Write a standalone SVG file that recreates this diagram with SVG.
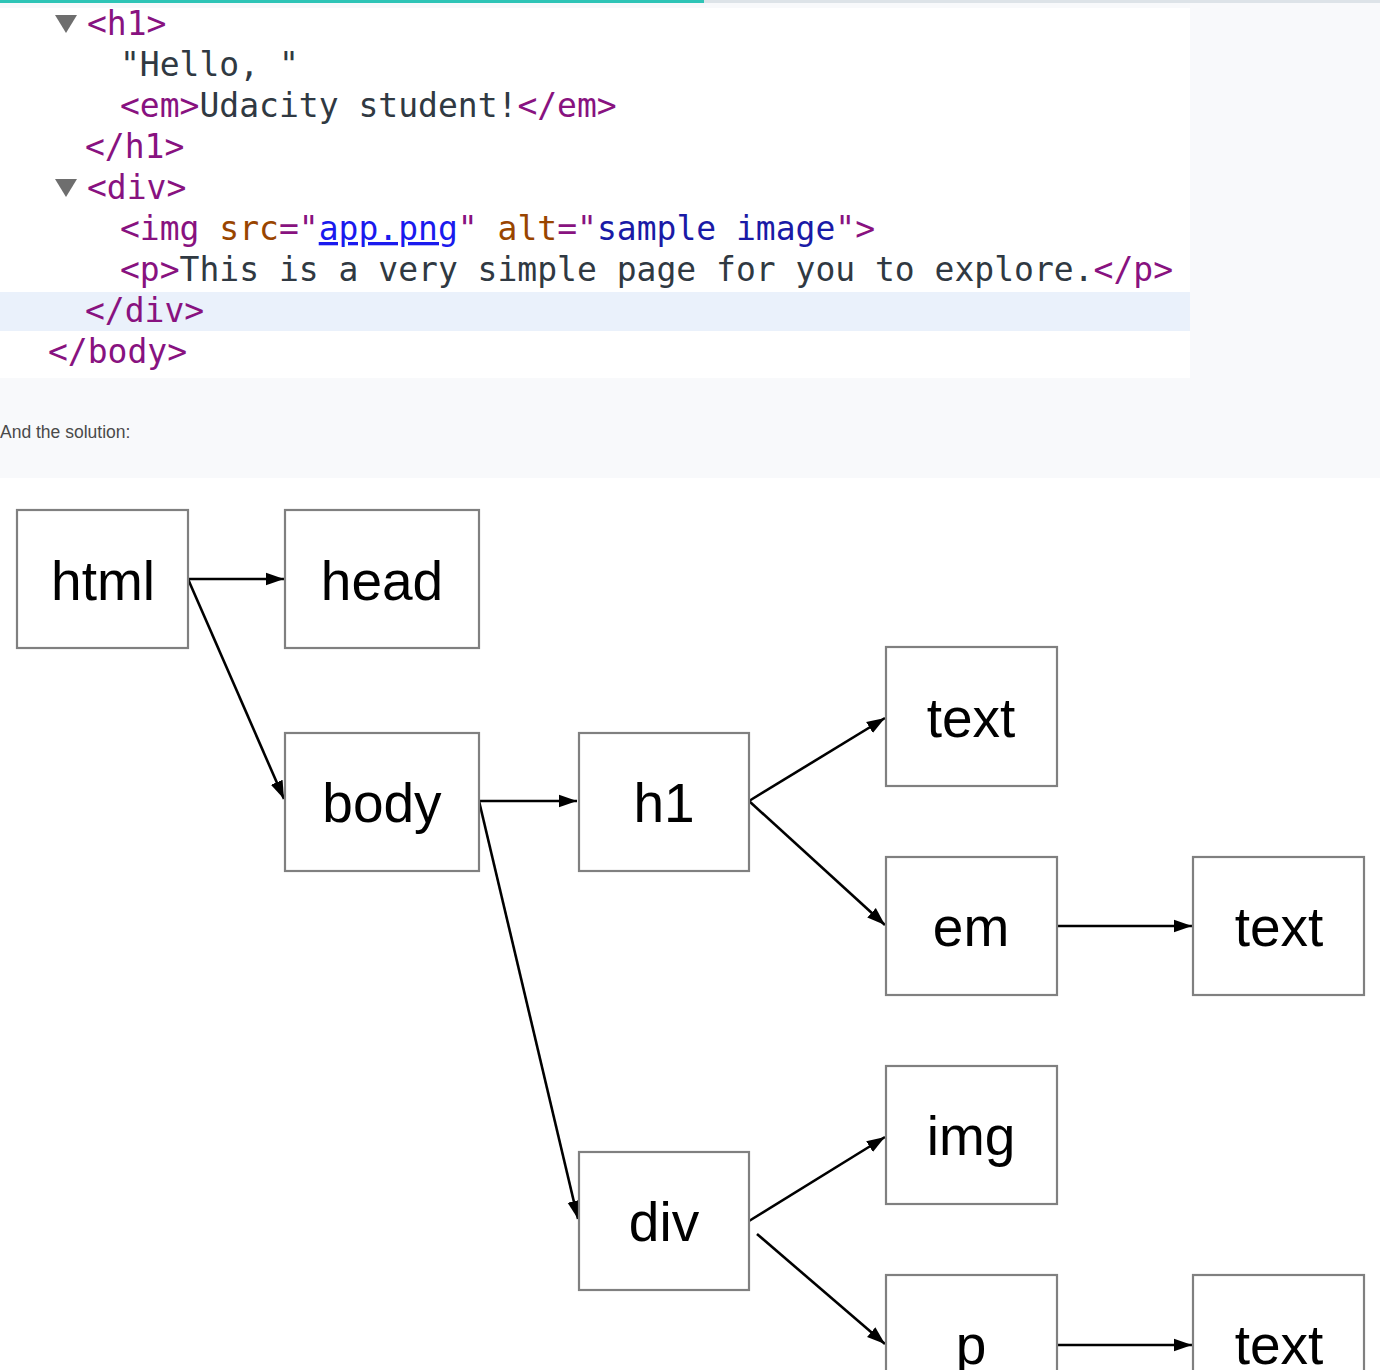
<svg xmlns="http://www.w3.org/2000/svg" width="1380" height="1370" viewBox="0 0 1380 1370">
<defs>
<marker id="ah" viewBox="0 0 10 10" refX="10" refY="5" markerWidth="7" markerHeight="7" markerUnits="strokeWidth" orient="auto">
<path d="M0,1.5 L10,5 L0,8.5 z" fill="#000"/>
</marker>
<style>
.code{font-family:"DejaVu Sans Mono",monospace;font-size:33px;fill:#303942}
.tag{fill:#881280}
.an{fill:#994500}
.av{fill:#1a1aa6}
.lk{fill:#1a1aee;text-decoration:underline}
.box{fill:#fff;stroke:#808080;stroke-width:2.2}
.lbl{font-family:"Liberation Sans",Arial,sans-serif;font-size:55px;fill:#000;text-anchor:middle}
.edge{stroke:#000;stroke-width:2.6;fill:none;marker-end:url(#ah)}
</style>
</defs>
<rect x="0" y="0" width="1380" height="1370" fill="#f8f9fb"/>
<rect x="0" y="0" width="1380" height="3" fill="#dde3e8"/>
<rect x="0" y="0" width="704" height="3" fill="#2ec4b6"/>
<rect x="0" y="8" width="1190" height="370" fill="#ffffff"/>
<rect x="0" y="292" width="1190" height="39" fill="#eaf1fb"/>
<g id="code">
<path d="M55,15 L77,15 L66,33 z" fill="#6e6e6e"/>
<text class="code" x="87" y="35"><tspan class="tag">&lt;h1&gt;</tspan></text>
<text class="code" x="120" y="76">"Hello, "</text>
<text class="code" x="120" y="117"><tspan class="tag">&lt;em&gt;</tspan>Udacity student!<tspan class="tag">&lt;/em&gt;</tspan></text>
<text class="code" x="85" y="158"><tspan class="tag">&lt;/h1&gt;</tspan></text>
<path d="M55,179 L77,179 L66,197 z" fill="#6e6e6e"/>
<text class="code" x="87" y="199"><tspan class="tag">&lt;div&gt;</tspan></text>
<text class="code" x="120" y="240"><tspan class="tag">&lt;img</tspan> <tspan class="an">src</tspan><tspan class="tag">="</tspan><tspan class="lk">app.png</tspan><tspan class="tag">"</tspan> <tspan class="an">alt</tspan><tspan class="tag">="</tspan><tspan class="av">sample image</tspan><tspan class="tag">"&gt;</tspan></text>
<text class="code" x="120" y="281"><tspan class="tag">&lt;p&gt;</tspan>This is a very simple page for you to explore.<tspan class="tag">&lt;/p&gt;</tspan></text>
<text class="code" x="85" y="322"><tspan class="tag">&lt;/div&gt;</tspan></text>
<text class="code" x="48" y="363"><tspan class="tag">&lt;/body&gt;</tspan></text>
</g>
<text x="0" y="438" font-family="Liberation Sans,Arial,sans-serif" font-size="17.5" fill="#4a4a4a">And the solution:</text>
<rect x="0" y="478" width="1380" height="892" fill="#ffffff"/>
<g id="connectors">
<line class="edge" x1="188" y1="579" x2="284" y2="579"/>
<line class="edge" x1="188" y1="579" x2="284" y2="799"/>
<line class="edge" x1="479" y1="801" x2="577" y2="801"/>
<line class="edge" x1="479" y1="801" x2="578" y2="1219"/>
<line class="edge" x1="749" y1="801" x2="885" y2="718"/>
<line class="edge" x1="749" y1="801" x2="885" y2="925"/>
<line class="edge" x1="1057" y1="926" x2="1192" y2="926"/>
<line class="edge" x1="749" y1="1221" x2="885" y2="1137"/>
<line class="edge" x1="757" y1="1234" x2="885" y2="1344"/>
<line class="edge" x1="1057" y1="1345" x2="1192" y2="1345"/>
</g>
<g id="n-html"><rect class="box" x="17" y="510" width="171" height="138"/><text class="lbl" x="103" y="600">html</text></g>
<g id="n-head"><rect class="box" x="285" y="510" width="194" height="138"/><text class="lbl" x="382" y="600">head</text></g>
<g id="n-body"><rect class="box" x="285" y="733" width="194" height="138"/><text class="lbl" x="382" y="822">body</text></g>
<g id="n-h1"><rect class="box" x="579" y="733" width="170" height="138"/><text class="lbl" x="664" y="822">h1</text></g>
<g id="n-text1"><rect class="box" x="886" y="647" width="171" height="139"/><text class="lbl" x="971" y="737">text</text></g>
<g id="n-em"><rect class="box" x="886" y="857" width="171" height="138"/><text class="lbl" x="971" y="946">em</text></g>
<g id="n-text2"><rect class="box" x="1193" y="857" width="171" height="138"/><text class="lbl" x="1279" y="946">text</text></g>
<g id="n-img"><rect class="box" x="886" y="1066" width="171" height="138"/><text class="lbl" x="971" y="1155">img</text></g>
<g id="n-div"><rect class="box" x="579" y="1152" width="170" height="138"/><text class="lbl" x="664" y="1241">div</text></g>
<g id="n-p"><rect class="box" x="886" y="1275" width="171" height="138"/><text class="lbl" x="971" y="1364">p</text></g>
<g id="n-text3"><rect class="box" x="1193" y="1275" width="171" height="138"/><text class="lbl" x="1279" y="1364">text</text></g>
</svg>
